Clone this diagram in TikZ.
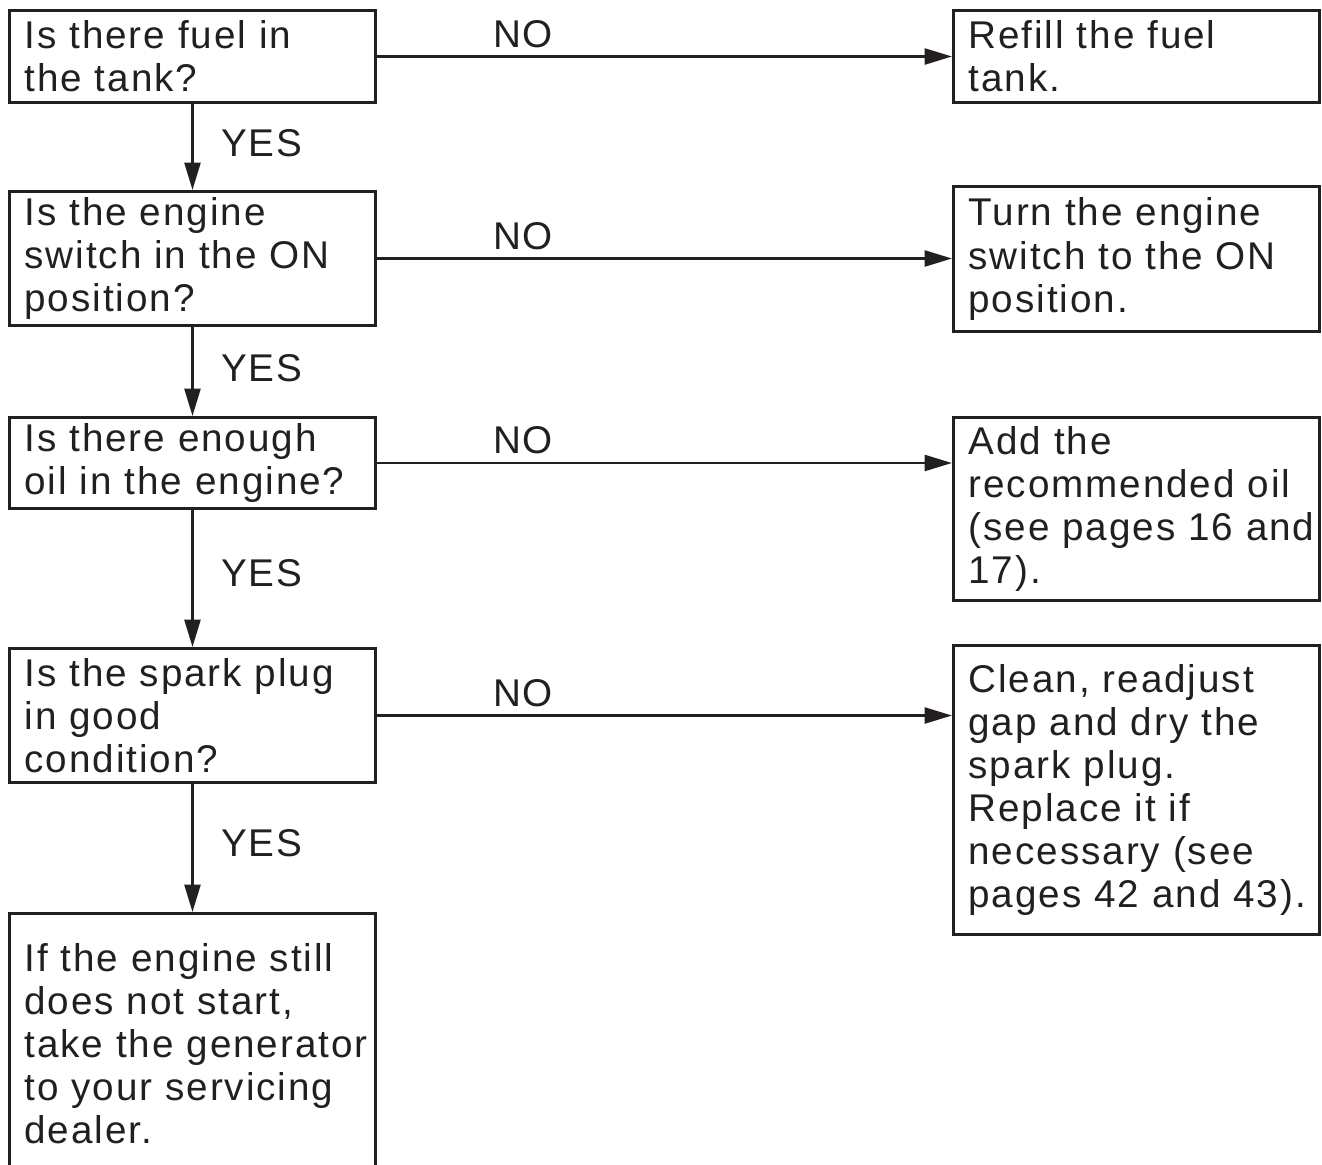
\documentclass[tikz,border=0pt]{standalone}
\usepackage{fontspec}
\setmainfont[LetterSpace=5]{Liberation Sans}
\usetikzlibrary{arrows.meta, positioning}
\definecolor{cink}{HTML}{231F20}
\tikzset{
  every picture/.style={line width=1.7pt, color=cink},
  box/.style={draw=cink, anchor=north west, minimum width=7.32cm, minimum height=#1, text width=7.32cm, inner xsep=0pt, inner ysep=2pt, align=left, font=\fontsize{22pt}{24.5pt}\selectfont, execute at begin node={\leftskip=0.3cm\relax}},
  box/.default=1.84cm,
  arrow/.style={-{Triangle[length=5.5mm, width=3.2mm]}, draw=cink, line width=1.5pt},
  answer/.style={font=\fontsize{22pt}{24.5pt}\selectfont, inner sep=0pt},
}

\begin{document}
\begin{tikzpicture}
  \useasboundingbox (0,0) rectangle (26.44,-23.28);
  % questions
  \node[box=1.84cm] (fuel) at (0.16,-0.18) {Is there fuel in\\the tank?};
  \node[box=2.68cm] (switch) at (0.16,-3.80) {Is the engine\\switch in the ON\\position?};
  \node[box=1.82cm] (oil) at (0.16,-8.32) {Is there enough\\oil in the engine?};
  \node[box=2.68cm] (plug) at (0.16,-12.94) {Is the spark plug\\in good\\condition?};
  \node[box=5.2cm] (dealer) at (0.16,-18.24) {If the engine still\\does not start,\\take the generator\\to your servicing\\dealer.};
  % remedies
  \node[box=1.84cm] (refill) at (19.04,-0.18) {Refill the fuel\\tank.};
  \node[box=2.90cm] (turnon) at (19.04,-3.70) {Turn the engine\\switch to the ON\\position.};
  \node[box=3.66cm] (addoil) at (19.04,-8.32) {Add the\\recommended oil\\(see pages 16 and\\17).};
  \node[box=5.78cm] (clean) at (19.04,-12.88) {Clean, readjust\\gap and dry the\\spark plug.\\Replace it if\\necessary (see\\pages 42 and 43).};
  % yes branch
  \draw[arrow] (fuel) -- node[answer, right=5.5mm, pos=0.46] {YES} (switch);
  \draw[arrow] (switch) -- node[answer, right=5.5mm, pos=0.46] {YES} (oil);
  \draw[arrow] (oil) -- node[answer, right=5.5mm, pos=0.46] {YES} (plug);
  \draw[arrow] (plug) -- node[answer, right=5.5mm, pos=0.46] {YES} (dealer);
  % no branch
  \draw[arrow] (fuel.east) -- node[answer, above=1.5mm, pos=0.254] {NO} (fuel.east -| refill.west);
  \draw[arrow] (switch.east) -- node[answer, above=1.5mm, pos=0.254] {NO} (switch.east -| turnon.west);
  \draw[arrow] (oil.east) -- node[answer, above=1.5mm, pos=0.254] {NO} (oil.east -| addoil.west);
  \draw[arrow] (plug.east) -- node[answer, above=1.5mm, pos=0.254] {NO} (plug.east -| clean.west);
\end{tikzpicture}
\end{document}
